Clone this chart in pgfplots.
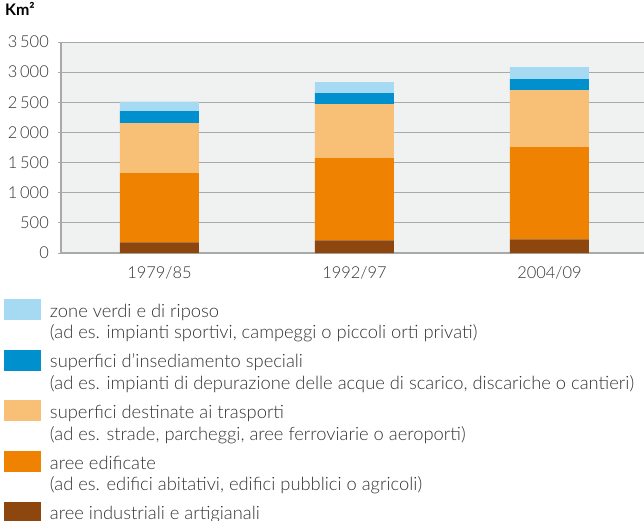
\documentclass[border=0pt]{standalone}
\usepackage{fontspec}
\setmainfont{Lato}[UprightFont=* Light, BoldFont=* Bold]
\usepackage{pgfplots}
\pgfplotsset{compat=1.18}
\definecolor{cverdi}{HTML}{A6DAF3}
\definecolor{cspec}{HTML}{0090CD}
\definecolor{ctrasp}{HTML}{F8C077}
\definecolor{cedif}{HTML}{EF8200}
\definecolor{cind}{HTML}{8E460F}
\definecolor{bgc}{HTML}{F0F1F1}
\definecolor{gridc}{HTML}{A9A9A9}
\definecolor{txt}{HTML}{333333}
\begin{document}
\begin{tikzpicture}
\useasboundingbox (-61bp,-268bp) rectangle (583bp,253bp);
\begin{axis}[
  at={(0,0)}, anchor=south west,
  scale only axis, width=583bp, height=211bp,
  xmin=-0.505, xmax=2.485, ymin=0, ymax=3500,
  ybar stacked, bar width=79bp,
  axis x line*=bottom, axis y line*=left,
  x axis line style={draw=gridc, line width=2bp},
  y axis line style={draw=gridc, line width=1.5bp},
  axis background/.style={fill=bgc},
  ymajorgrids, grid style={draw=gridc, line width=1bp},
  xtick=data, xticklabels={1979/85,1992/97,2004/09},
  ytick={0,500,...,3500},
  xtick style={draw=none},
  ytick style={draw=gridc, line width=1bp},
  tick align=outside, major tick length=3bp,
  /pgf/number format/.cd, 1000 sep={\,}, assume math mode=true,
  /pgfplots/.cd,
  ticklabel style={text=txt, font=\fontsize{16.5}{19}\selectfont, inner sep=0pt},
  yticklabel style={anchor=east, xshift=-9bp},
  xticklabel style={anchor=north, yshift=-10bp},
  title={Km²},
  title style={at={(0,1)}, anchor=base west, xshift=-56bp, yshift=20.3bp, inner sep=0pt, font=\bfseries\fontsize{16}{18}\selectfont, text=black},
  reverse legend,
  legend cell align=left,
  legend image code/.code={\fill[#1] (0bp,3.6bp) rectangle (37bp,24.6bp);},
  legend style={at={(0,0)}, anchor=north west, xshift=-57bp, yshift=-46bp,
    draw=none, fill=none, inner sep=0pt, outer sep=0pt,
    row sep=4.15bp, column sep=9bp, text=txt,
    font=\fontsize{18.4}{22}\selectfont, nodes={inner sep=0pt, text depth=}},
]
\addplot[fill=cind, draw=none] coordinates {(0,178) (1,211) (2,227)};
\addlegendentry{{\begin{tabular}{@{}l@{}}aree industriali e artigianali\\\mbox{}\end{tabular}}}
\addplot[fill=cedif, draw=none] coordinates {(0,1145) (1,1361) (2,1528)};
\addlegendentry{{\begin{tabular}{@{}l@{}}aree edificate\\(ad es. edifici abitativi, edifici pubblici o agricoli)\end{tabular}}}
\addplot[fill=ctrasp, draw=none] coordinates {(0,830) (1,896) (2,946)};
\addlegendentry{{\begin{tabular}{@{}l@{}}superfici destinate ai trasporti\\(ad es. strade, parcheggi, aree ferroviarie o aeroporti)\end{tabular}}}
\addplot[fill=cspec, draw=none] coordinates {(0,199) (1,183) (2,182)};
\addlegendentry{{\begin{tabular}{@{}l@{}}superfici d'insediamento speciali\\(ad es. impianti di depurazione delle acque di scarico, discariche o cantieri)\end{tabular}}}
\addplot[fill=cverdi, draw=none] coordinates {(0,161) (1,183) (2,200)};
\addlegendentry{{\begin{tabular}{@{}l@{}}zone verdi e di riposo\\(ad es. impianti sportivi, campeggi o piccoli orti privati)\end{tabular}}}
\end{axis}
\end{tikzpicture}
\end{document}
